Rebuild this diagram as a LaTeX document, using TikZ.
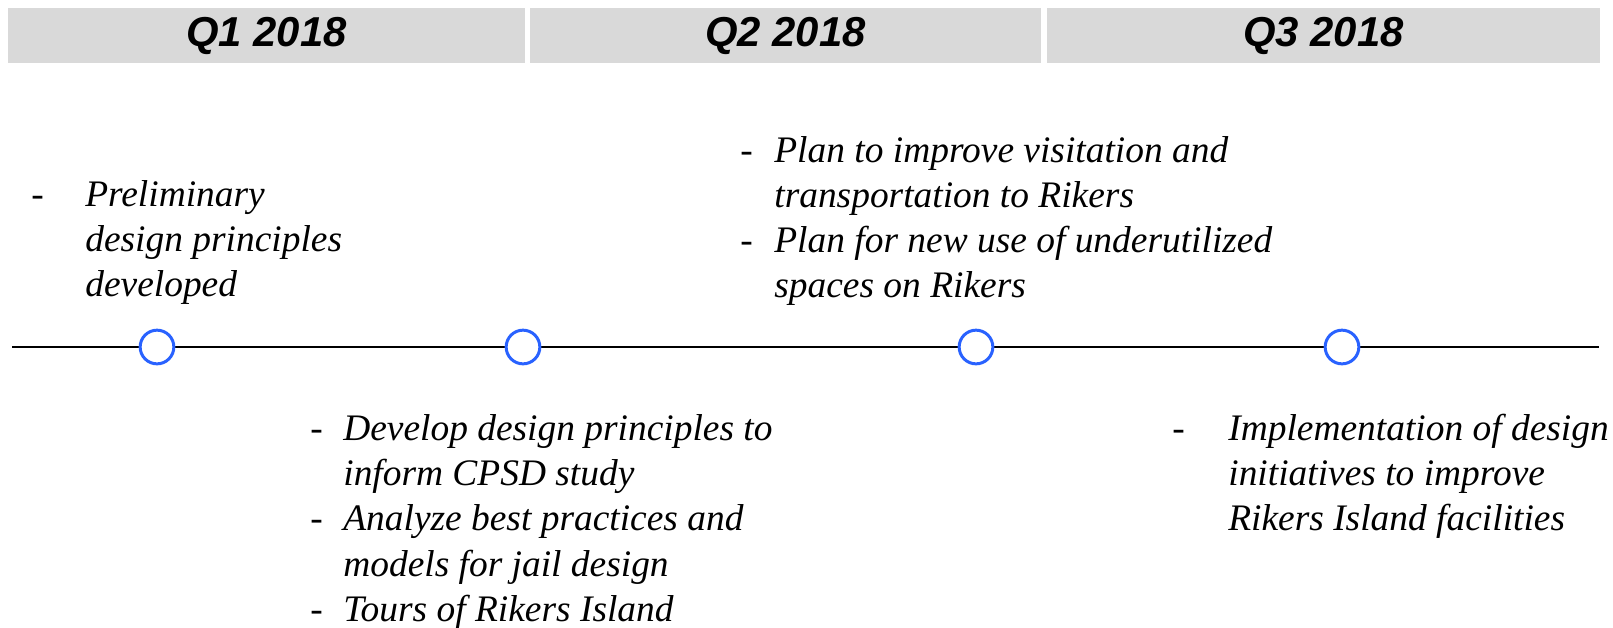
\documentclass[tikz,border=0pt]{standalone}
\usepackage{fontspec}
\setmainfont{Liberation Serif}
\newfontfamily\notefont{Liberation Serif}
\newfontfamily\headfont{Liberation Sans}
\definecolor{headgray}{RGB}{217,217,217}
\definecolor{dotblue}{RGB}{41,98,255}
\tikzset{
  quarter/.style={fill=headgray, inner sep=0, minimum height=1.1cm, font=\headfont\fontsize{23.8}{28}\selectfont\bfseries\itshape},
  milestone/.style={draw=dotblue, fill=white, circle, line width=1.7pt, minimum size=0.674cm, inner sep=0},
  notes/.style={anchor=base west, inner sep=0, font=\notefont\fontsize{21.3}{25.8}\selectfont\itshape}
}
\begin{document}
\begin{tikzpicture}[x=0.02cm, y=-0.02cm]
	\useasboundingbox (0,0) rectangle (1613,627);
	\foreach \name/\x/\w/\q in {qone/266.5/517/1, qtwo/785.5/511/2, qthree/1323.5/553/3}
		{
			\node[quarter, minimum width=\w*0.02cm] (\name) at (\x,35.5) {Q\q\ 2018};
		}
	\coordinate (tlstart) at (12,347);
	\coordinate (tlend) at (1599,347);
	\draw[line width=1.1pt] (tlstart) -- (tlend);
	\foreach \name/\x in {mone/157, mtwo/523, mthree/976, mfour/1342}
		{
			\node[milestone] (\name) at (\x,347) {};
		}
	\node[notes] (prelim) at (31,206) {\begin{tabular}[t]{@{}p{1.08cm}@{}l@{}}
		{\upshape -} & Preliminary\\
		& design principles\\
		& developed
	\end{tabular}};
	\node[notes] (develop) at (310,440) {\begin{tabular}[t]{@{}p{0.66cm}@{}l@{}}
		{\upshape -} & Develop design principles to\\
		& inform CPSD study\\
		{\upshape -} & Analyze best practices and\\
		& models for jail design\\
		{\upshape -} & Tours of Rikers Island
	\end{tabular}};
	\node[notes] (plan) at (740,162) {\begin{tabular}[t]{@{}p{0.68cm}@{}l@{}}
		{\upshape -} & Plan to improve visitation and\\
		& transportation to Rikers\\
		{\upshape -} & Plan for new use of underutilized\\
		& spaces on Rikers
	\end{tabular}};
	\node[notes] (implement) at (1172,440) {\begin{tabular}[t]{@{}p{1.12cm}@{}l@{}}
		{\upshape -} & Implementation of design\\
		& initiatives to improve\\
		& Rikers Island facilities
	\end{tabular}};
\end{tikzpicture}
\end{document}
